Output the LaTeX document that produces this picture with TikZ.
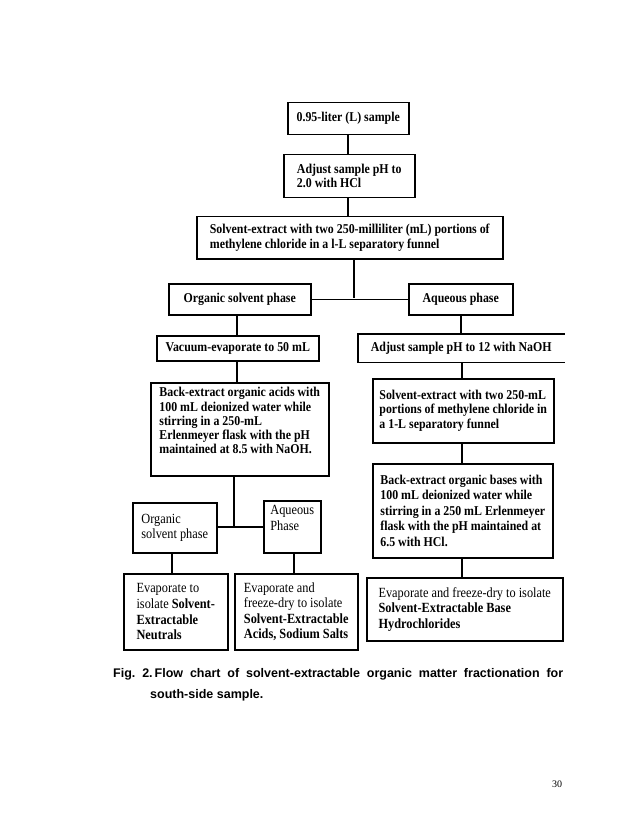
\documentclass[tikz,border=0pt]{standalone}
\usepackage{fontspec}
\setmainfont{Liberation Serif}
\newfontfamily\boxfont[FakeStretch=0.88]{Liberation Serif}
\newfontfamily\capfont{Liberation Sans}
\begin{document}
\begin{tikzpicture}[x=1pt,y=-1pt,
  box/.style={draw, line width=1.5pt, anchor=north west, inner xsep=4pt, inner ysep=0pt, align=left,
    font=\boxfont\fontsize{13.5}{14.2}\selectfont\bfseries},
  lbox/.style={box, font=\boxfont\fontsize{14}{15.6}\selectfont},
  conn/.style={line width=1.4pt}]
\useasboundingbox (0,0) rectangle (638,826);

\node[box, minimum width=121pt, minimum height=32pt] (n1) at (287,102) {0.95-liter (L) sample};
\node[box, minimum width=131pt, minimum height=43pt] (n2) at (283,154) {Adjust sample pH to\\2.0 with HCl};
\node[box, minimum width=306pt, minimum height=42pt] (n3) at (196,216) {Solvent-extract with two 250-milliliter (mL) portions of\\methylene chloride in a l-L separatory funnel};
\node[box, minimum width=142pt, minimum height=31pt] (n4) at (168,283) {Organic solvent phase};
\node[box, minimum width=104pt, minimum height=31pt] (n5) at (408,283) {Aqueous phase};
\node[box, minimum width=162pt, minimum height=25pt] (n6) at (156,335) {Vacuum-evaporate to 50 mL};
\node[box, draw=none, minimum width=205pt, minimum height=27pt] (n7) at (358,334) {Adjust sample pH to 12 with NaOH};
\draw[line width=1.5pt] (n7.north east) -- (n7.north west) -- (n7.south west) -- (n7.south east);
\node[box, minimum width=178pt, minimum height=93pt] (n8) at (150,382) {Back-extract organic acids with\\100 mL deionized water while\\stirring in a 250-mL\\Erlenmeyer flask with the pH\\maintained at 8.5 with NaOH.\\[3pt]};
\node[box, minimum width=181pt, minimum height=64pt] (n9) at (372,378) {Solvent-extract with two 250-mL\\portions of methylene chloride in\\a 1-L separatory funnel};
\node[box, minimum width=180pt, minimum height=94pt, font=\boxfont\fontsize{13.5}{15.6}\selectfont\bfseries] (n10) at (372,463) {Back-extract organic bases with\\100 mL deionized water while\\stirring in a 250 mL Erlenmeyer\\flask with the pH maintained at\\6.5 with HCl.};
\node[lbox, minimum width=84pt, minimum height=50pt] (n11) at (132,502) {Organic\\solvent phase};
\node[lbox, minimum width=57pt, minimum height=52pt] (n12) at (263,500) {Aqueous\\Phase\\[2pt]};
\node[lbox, minimum width=104pt, minimum height=76pt] (n13) at (123,573) {Evaporate to\\isolate \textbf{Solvent-}\\\textbf{Extractable}\\\textbf{Neutrals}};
\node[lbox, minimum width=123pt, minimum height=76pt] (n14) at (234,573) {Evaporate and\\freeze-dry to isolate\\\textbf{Solvent-Extractable}\\\textbf{Acids, Sodium Salts}};
\node[lbox, minimum width=196pt, minimum height=63pt] (n15) at (366,577) {Evaporate and freeze-dry to isolate\\\textbf{Solvent-Extractable Base}\\\textbf{Hydrochlorides}};

\coordinate (j1) at (354,298);
\coordinate (j2) at (234,527);
\coordinate (c1) at (348,0);
\coordinate (c2) at (237,0);
\coordinate (c3) at (461,0);
\coordinate (c4) at (462,0);
\coordinate (c5) at (172,0);
\coordinate (c6) at (294,0);
\draw[conn] (n1.south -| c1) -- (n2.north -| c1);
\draw[conn] (n2.south -| c1) -- (n3.north -| c1);
\draw[conn] (n3.south -| j1) -- (j1);
\draw[conn] (n4.east) -- (n4.east -| n5.west);
\draw[conn] (n4.south -| c2) -- (n6.north -| c2);
\draw[conn] (n6.south -| c2) -- (n8.north -| c2);
\draw[conn] (n5.south -| c3) -- (n7.north -| c3);
\draw[conn] (n7.south -| c4) -- (n9.north -| c4);
\draw[conn] (n9.south -| c4) -- (n10.north -| c4);
\draw[conn] (n10.south -| c4) -- (n15.north -| c4);
\draw[conn] (n8.south -| j2) -- (j2);
\draw[conn] (n11.east |- j2) -- (n12.west |- j2);
\draw[conn] (n11.south -| c5) -- (n13.north -| c5);
\draw[conn] (n12.south -| c6) -- (n14.north -| c6);

\node[anchor=base west, inner sep=0pt, font=\capfont\fontsize{12.5}{15}\selectfont\bfseries] (cap1) at (113,677)
  {\makebox[450pt][s]{Fig.\ 2.\hspace{2pt}Flow chart of solvent-extractable organic matter fractionation for}};
\node[anchor=base west, inner sep=0pt, font=\capfont\fontsize{12.5}{15}\selectfont\bfseries] (cap2) at (150,698) {south-side sample.};
\node[anchor=base west, inner sep=0pt, font=\fontsize{10}{12}\selectfont] (pg) at (552,787) {30};
\end{tikzpicture}
\end{document}
